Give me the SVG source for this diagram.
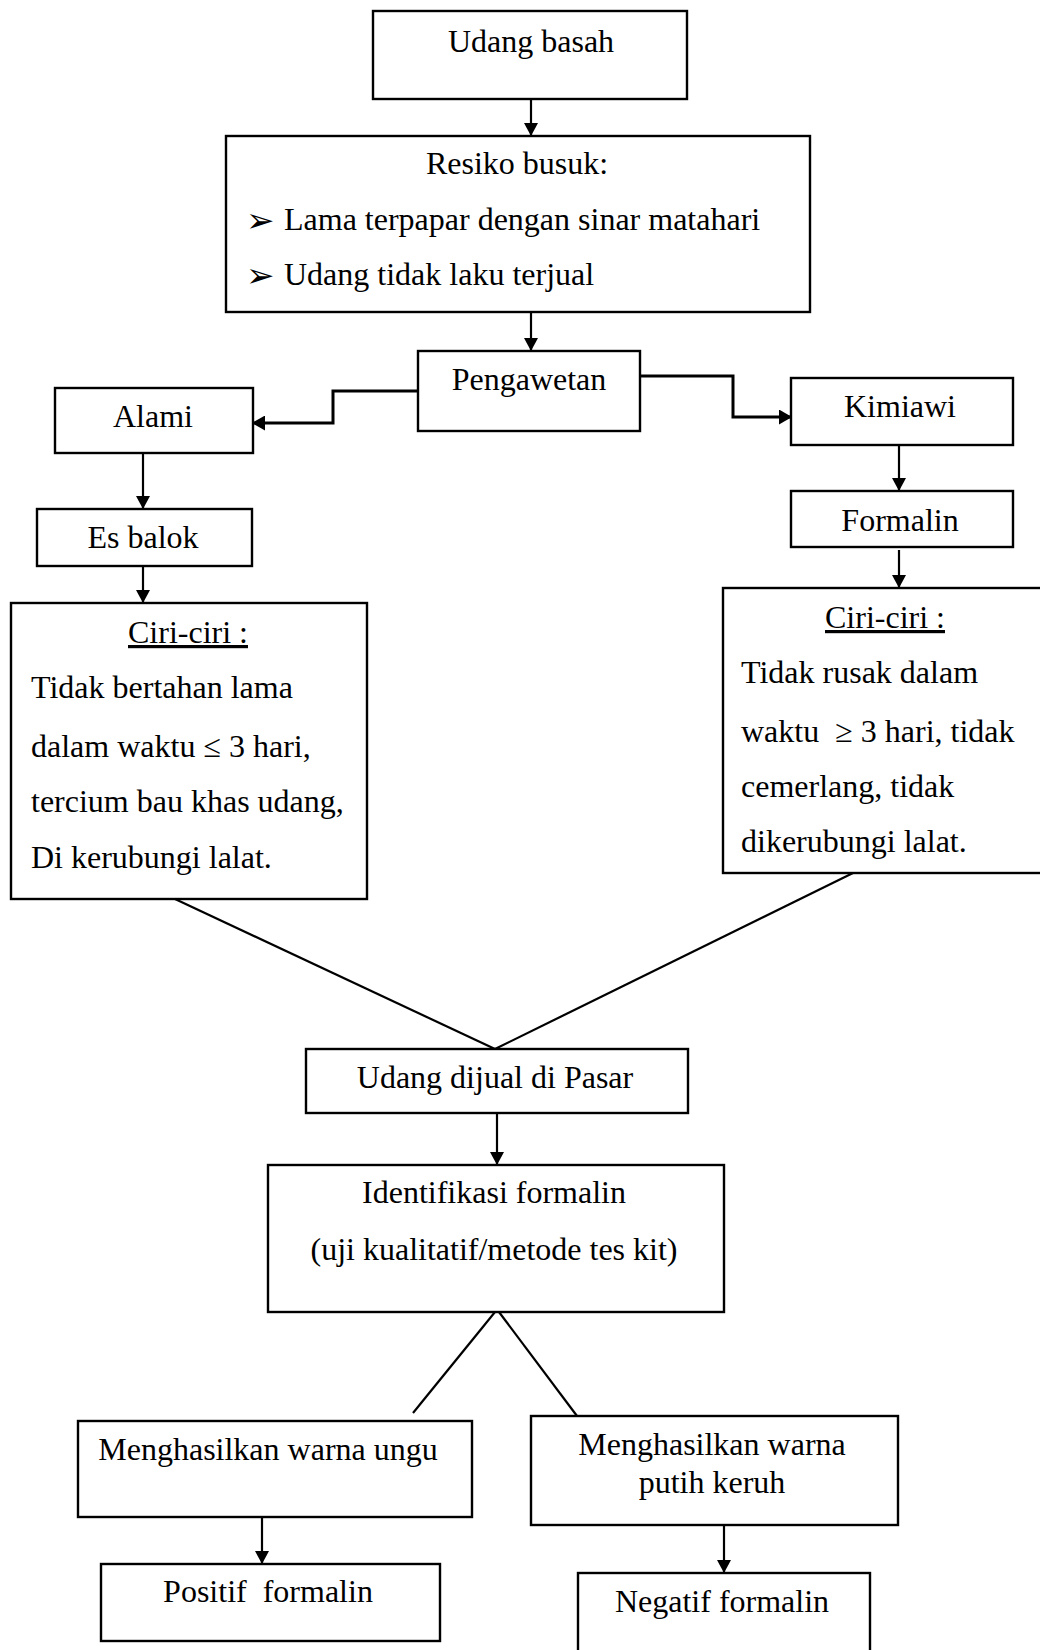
<svg xmlns="http://www.w3.org/2000/svg" width="1040" height="1650" viewBox="0 0 1040 1650">
<defs>
<style>
.box{fill:#fff;stroke:#000;stroke-width:2.4}
.t{font-family:"Liberation Serif","Times New Roman",serif;font-size:32px;fill:#000}
.c{text-anchor:middle}
.u{text-decoration:underline}
.ln{fill:none;stroke:#000;stroke-width:2.2}
.el{fill:none;stroke:#000;stroke-width:3}
.bul{font-family:"DejaVu Sans",sans-serif;font-size:34px;fill:#000}
</style>
<marker id="ah" markerWidth="13" markerHeight="14" refX="13" refY="7" orient="auto" markerUnits="userSpaceOnUse">
<path d="M0,0 L13,7 L0,14 Z" fill="#000"/>
</marker>
<marker id="ah2" markerWidth="13" markerHeight="15" refX="12" refY="7.5" orient="auto" markerUnits="userSpaceOnUse">
<path d="M0,0 L13,7.5 L0,15 Z" fill="#000"/>
</marker>
</defs>
<rect width="1040" height="1650" fill="#fff"/>

<g id="connectors">
<line class="ln" x1="531" y1="98" x2="531" y2="136" marker-end="url(#ah)"/>
<line class="ln" x1="531" y1="312" x2="531" y2="351" marker-end="url(#ah)"/>
<polyline class="el" points="418,391 333,391 333,423 253,423" marker-end="url(#ah2)"/>
<polyline class="el" points="640,376 733,376 733,417 791,417" marker-end="url(#ah2)"/>
<line class="ln" x1="143" y1="453" x2="143" y2="509" marker-end="url(#ah)"/>
<line class="ln" x1="143" y1="564" x2="143" y2="603" marker-end="url(#ah)"/>
<line class="ln" x1="899" y1="445" x2="899" y2="491" marker-end="url(#ah)"/>
<line class="ln" x1="899" y1="550" x2="899" y2="588" marker-end="url(#ah)"/>
<line class="ln" x1="175" y1="899" x2="495" y2="1049"/>
<line class="ln" x1="853" y1="873" x2="495" y2="1049"/>
<line class="ln" x1="497" y1="1113" x2="497" y2="1165" marker-end="url(#ah)"/>
<line class="ln" x1="495" y1="1312" x2="413" y2="1413"/>
<line class="ln" x1="499" y1="1312" x2="577" y2="1416"/>
<line class="ln" x1="262" y1="1517" x2="262" y2="1564" marker-end="url(#ah)"/>
<line class="ln" x1="724" y1="1525" x2="724" y2="1573" marker-end="url(#ah)"/>
</g>

<g id="udang-basah">
<rect class="box" x="373" y="11" width="314" height="88"/>
<text class="t c" x="531" y="52">Udang basah</text>
</g>

<g id="resiko">
<rect class="box" x="226" y="136" width="584" height="176"/>
<text class="t c" x="517" y="174">Resiko busuk:</text>
<text class="bul" x="246" y="232">➢</text>
<text class="t" x="284" y="230">Lama terpapar dengan sinar matahari</text>
<text class="bul" x="246" y="287">➢</text>
<text class="t" x="284" y="285">Udang tidak laku terjual</text>
</g>

<g id="pengawetan">
<rect class="box" x="418" y="351" width="222" height="80"/>
<text class="t c" x="529" y="390">Pengawetan</text>
</g>

<g id="alami">
<rect class="box" x="55" y="388" width="198" height="65"/>
<text class="t c" x="153" y="427">Alami</text>
</g>

<g id="kimiawi">
<rect class="box" x="791" y="378" width="222" height="67"/>
<text class="t c" x="900" y="417">Kimiawi</text>
</g>

<g id="es-balok">
<rect class="box" x="37" y="509" width="215" height="57"/>
<text class="t c" x="143" y="548">Es balok</text>
</g>

<g id="formalin">
<rect class="box" x="791" y="491" width="222" height="56"/>
<text class="t c" x="900" y="531">Formalin</text>
</g>

<g id="ciri-alami">
<rect class="box" x="11" y="603" width="356" height="296"/>
<text class="t c u" x="188" y="643">Ciri-ciri :</text>
<text class="t" x="31" y="698">Tidak bertahan lama</text>
<text class="t" x="31" y="757">dalam waktu ≤ 3 hari,</text>
<text class="t" x="31" y="812">tercium bau khas udang,</text>
<text class="t" x="31" y="868">Di kerubungi lalat.</text>
</g>

<g id="ciri-kimiawi">
<rect class="box" x="723" y="588" width="340" height="285"/>
<text class="t c u" x="885" y="628">Ciri-ciri :</text>
<text class="t" x="741" y="683">Tidak rusak dalam</text>
<text class="t" x="741" y="742" xml:space="preserve">waktu  ≥ 3 hari, tidak</text>
<text class="t" x="741" y="797">cemerlang, tidak</text>
<text class="t" x="741" y="852">dikerubungi lalat.</text>
</g>

<g id="udang-dijual">
<rect class="box" x="306" y="1049" width="382" height="64"/>
<text class="t c" x="495" y="1088">Udang dijual di Pasar</text>
</g>

<g id="identifikasi">
<rect class="box" x="268" y="1165" width="456" height="147"/>
<text class="t c" x="494" y="1203">Identifikasi formalin</text>
<text class="t c" x="494" y="1260">(uji kualitatif/metode tes kit)</text>
</g>

<g id="ungu">
<rect class="box" x="78" y="1421" width="394" height="96"/>
<text class="t c" x="268" y="1460">Menghasilkan warna ungu</text>
</g>

<g id="putih">
<rect class="box" x="531" y="1416" width="367" height="109"/>
<text class="t c" x="712" y="1455">Menghasilkan warna</text>
<text class="t c" x="712" y="1493">putih keruh</text>
</g>

<g id="positif">
<rect class="box" x="101" y="1564" width="339" height="77"/>
<text class="t c" x="268" y="1602" xml:space="preserve">Positif  formalin</text>
</g>

<g id="negatif">
<rect class="box" x="578" y="1573" width="292" height="90"/>
<text class="t c" x="722" y="1612">Negatif formalin</text>
</g>
</svg>
